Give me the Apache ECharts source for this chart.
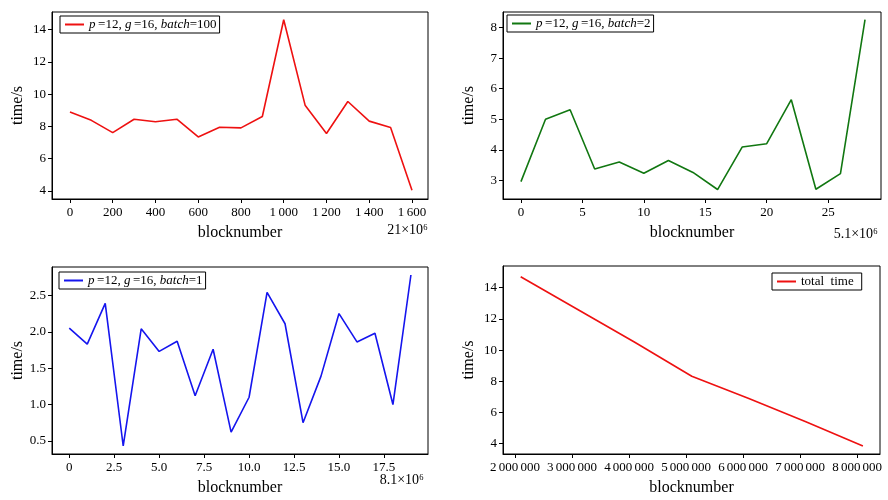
<!DOCTYPE html>
<html>
<head>
    <meta charset="utf-8">
    <title>blocknumber - time</title>
    <script src="https://cdn.jsdelivr.net/npm/echarts@6/dist/echarts.min.js"></script>
</head>
<body style="margin:0">
    <div id="main" style="width: 888px;height: 500px;"></div>
    <script type="text/javascript">
        // 数据
        var blocks1 = [0, 100, 200, 300, 400, 500, 600, 700, 800, 900, 1000, 1100, 1200, 1300, 1400, 1500, 1600];
        var time1 = [8.89, 8.38, 7.62, 8.45, 8.29, 8.45, 7.35, 7.95, 7.91, 8.62, 14.62, 9.32, 7.56, 9.55, 8.33, 7.93, 4.04];

        var blocks2 = [0, 2, 4, 6, 8, 10, 12, 14, 16, 18, 20, 22, 24, 26, 28];
        var time2 = [2.96, 5.0, 5.31, 3.37, 3.60, 3.23, 3.65, 3.26, 2.70, 4.09, 4.20, 5.64, 2.71, 3.22, 8.26];

        var blocks3 = [0, 1, 2, 3, 4, 5, 6, 7, 8, 9, 10, 11, 12, 13, 14, 15, 16, 17, 18, 19];
        var time3 = [2.05, 1.83, 2.39, 0.43, 2.04, 1.73, 1.87, 1.12, 1.76, 0.62, 1.10, 2.54, 2.11, 0.75, 1.39, 2.25, 1.86, 1.98, 1.00, 2.78];

        var blocks4 = [2100000, 3100000, 4100000, 5100000, 6100000, 7100000, 8100000];
        var time4 = [14.7, 12.6, 10.5, 8.32, 6.9, 5.4, 3.85];

        // 刻度
        var xTicks1 = [0, 200, 400, 600, 800, 1000, 1200, 1400, 1600];
        var yTicks1 = [4, 6, 8, 10, 12, 14];
        var xTicks2 = [0, 5, 10, 15, 20, 25];
        var yTicks2 = [3, 4, 5, 6, 7, 8];
        var xTicks3 = [0, 2.5, 5, 7.5, 10, 12.5, 15, 17.5];
        var yTicks3 = [0.5, 1.0, 1.5, 2.0, 2.5];
        var xTicks4 = [2000000, 3000000, 4000000, 5000000, 6000000, 7000000, 8000000];
        var yTicks4 = [4, 6, 8, 10, 12, 14];

        var legendNames = {
            b100: '{i|p}\u2009=12, {i|g}\u2009=16, {i|batch}=100',
            b2: '{i|p}\u2009=12, {i|g}\u2009=16, {i|batch}=2',
            b1: '{i|p}\u2009=12, {i|g}\u2009=16, {i|batch}=1',
            total: 'total  time'
        };

        var font = 'Liberation Serif, DejaVu Serif, serif';

        function zip(a, b) {
            return a.map(function (v, i) { return [v, b[i]]; });
        }

        // 千位分隔用窄空格
        function spaced(sep) {
            return function (v) {
                var s = String(Math.round(v));
                return s.replace(/\B(?=(\d{3})+(?!\d))/g, sep);
            };
        }

        function xAxis(idx, min, max, ticks, fmt) {
            return {
                type: 'value', gridIndex: idx, min: min, max: max,
                name: 'blocknumber', nameLocation: 'middle', nameGap: 26,
                nameTextStyle: { fontFamily: font, fontSize: 16, color: '#000' },
                axisLine: { show: true, onZero: false, lineStyle: { color: '#000', width: 1 } },
                axisTick: { show: true, length: 4, customValues: ticks, lineStyle: { color: '#000' } },
                axisLabel: { customValues: ticks, formatter: fmt, color: '#000', fontFamily: font, fontSize: 13, margin: 7 },
                splitLine: { show: false }
            };
        }

        function yAxis(idx, min, max, ticks, fmt) {
            return {
                type: 'value', gridIndex: idx, min: min, max: max,
                name: 'time/s', nameLocation: 'middle', nameGap: 26, nameRotate: 90,
                nameTextStyle: { fontFamily: font, fontSize: 16, color: '#000' },
                axisLine: { show: true, onZero: false, lineStyle: { color: '#000', width: 1 } },
                axisTick: { show: true, length: 4, customValues: ticks, lineStyle: { color: '#000' } },
                axisLabel: { customValues: ticks, formatter: fmt, color: '#000', fontFamily: font, fontSize: 13, margin: 6 },
                splitLine: { show: false }
            };
        }

        function legend(name, left, top, padRight) {
            return {
                data: [name], left: left, top: top,
                orient: 'vertical',
                icon: 'rect', itemWidth: 19, itemHeight: 2,
                borderColor: '#000', borderWidth: 1, borderRadius: 0,
                padding: [2, padRight, 2, 5],
                formatter: function (n) { return legendNames[n]; },
                textStyle: {
                    fontFamily: font, fontSize: 13, color: '#000',
                    rich: { i: { fontFamily: font, fontSize: 13, fontStyle: 'italic', color: '#000' } }
                }
            };
        }

        function line(name, idx, xs, ys, color) {
            return {
                name: name, type: 'line', xAxisIndex: idx, yAxisIndex: idx,
                data: zip(xs, ys), showSymbol: false, symbol: 'none',
                lineStyle: { color: color, width: 1.6 }, itemStyle: { color: color },
                animation: false
            };
        }

        function offsetText(text, right, top) {
            return {
                type: 'text', right: right, top: top,
                style: { text: text, font: '14px ' + font, fill: '#000' }
            };
        }

        var gridStyle = { show: true, borderColor: '#000', borderWidth: 1, backgroundColor: '#fff' };

        var myChart = echarts.init(document.getElementById('main'));
        var option = {
            backgroundColor: '#fff',
            animation: false,
            grid: [
                Object.assign({ left: 52, top: 12, width: 376, height: 187 }, gridStyle),
                Object.assign({ left: 503, top: 12, width: 378, height: 187 }, gridStyle),
                Object.assign({ left: 52, top: 267, width: 376, height: 187 }, gridStyle),
                Object.assign({ left: 503, top: 266, width: 377, height: 188 }, gridStyle)
            ],
            xAxis: [
                xAxis(0, -84, 1675, xTicks1, spaced('\u2009')),
                xAxis(1, -1.46, 29.3, xTicks2, function (v) { return String(v); }),
                xAxis(2, -0.96, 19.95, xTicks3, function (v) { return v === 0 ? '0' : v.toFixed(1); }),
                xAxis(3, 1790000, 8400000, xTicks4, spaced('\u2006'))
            ],
            yAxis: [
                yAxis(0, 3.5, 15.1, yTicks1, function (v) { return String(v); }),
                yAxis(1, 2.39, 8.51, yTicks2, function (v) { return String(v); }),
                yAxis(2, 0.32, 2.89, yTicks3, function (v) { return v.toFixed(1); }),
                yAxis(3, 3.34, 15.39, yTicks4, function (v) { return String(v); })
            ],
            legend: [
                legend('b100', 60, 16, 3),
                legend('b2', 507, 15, 3),
                legend('b1', 59, 272, 3),
                legend('total', 772, 273, 8)
            ],
            series: [
                line('b100', 0, blocks1, time1, '#ee1111'),
                line('b2', 1, blocks2, time2, '#117711'),
                line('b1', 2, blocks3, time3, '#1515ee'),
                line('total', 3, blocks4, time4, '#ee1111')
            ],
            graphic: [
                offsetText('21×10\u2076', 460, 223),
                offsetText('5.1×10\u2076', 10, 227),
                offsetText('8.1×10\u2076', 464, 473)
            ]
        };
        myChart.setOption(option);
    </script>
</body>
</html>
